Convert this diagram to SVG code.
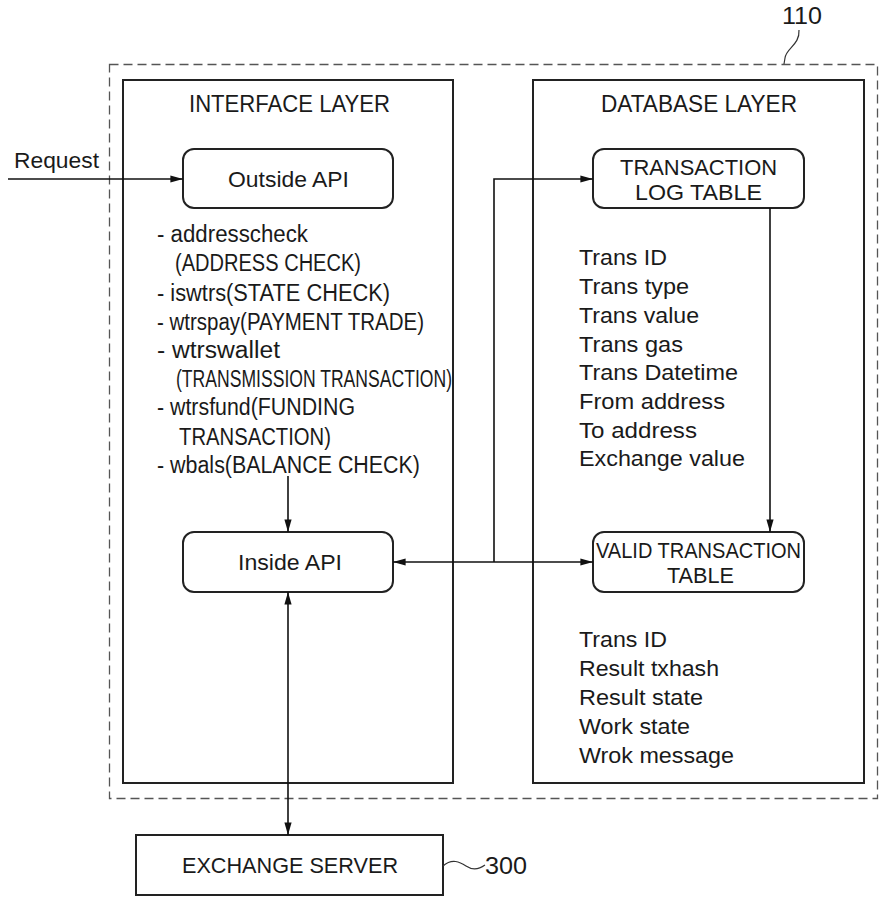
<svg xmlns="http://www.w3.org/2000/svg" width="885" height="901" viewBox="0 0 885 901">
<defs>
<style>
text{font-family:"Liberation Sans",Arial,sans-serif;fill:#1a1a1a;}
.t23{font-size:23px;}
.t22{font-size:22px;}
.layer{fill:none;stroke:#222;stroke-width:2;}
.node{fill:#fff;stroke:#222;stroke-width:2;}
.conn{fill:none;stroke:#111;stroke-width:1.6;}
.dash{fill:none;stroke:#555;stroke-width:1.3;stroke-dasharray:9 5;}
.lead{fill:none;stroke:#333;stroke-width:1.2;}
</style>
<marker id="ah" viewBox="0 0 14 10" refX="14" refY="5" markerWidth="14" markerHeight="9" markerUnits="userSpaceOnUse" orient="auto-start-reverse">
<path d="M0,1 L14,5 L0,9 Z" fill="#111"/>
</marker>
</defs>

<g id="system-110">
<rect class="dash" x="109.5" y="64.5" width="768" height="734"/>
<path class="lead" d="M799,30 C800,45 786,48 785,58 L784,64"/>
<text class="t23" x="782" y="24" textLength="40" lengthAdjust="spacingAndGlyphs">110</text>
</g>

<g id="interface-layer">
<rect class="layer" x="123" y="80" width="330" height="703"/>
<text class="t23" x="189" y="112" textLength="201" lengthAdjust="spacingAndGlyphs">INTERFACE LAYER</text>
</g>

<g id="database-layer">
<rect class="layer" x="533" y="80" width="331" height="703"/>
<text class="t23" x="601" y="112" textLength="196" lengthAdjust="spacingAndGlyphs">DATABASE LAYER</text>
</g>

<g id="outside-api">
<rect class="node" x="183" y="149" width="210" height="59" rx="11"/>
<text class="t22" x="228" y="187" textLength="121" lengthAdjust="spacingAndGlyphs">Outside API</text>
</g>

<g id="api-list">
<text class="t23" x="157" y="242" textLength="151" lengthAdjust="spacingAndGlyphs">- addresscheck</text>
<text class="t23" x="175" y="271" textLength="186" lengthAdjust="spacingAndGlyphs">(ADDRESS CHECK)</text>
<text class="t23" x="157" y="301" textLength="233" lengthAdjust="spacingAndGlyphs">- iswtrs(STATE CHECK)</text>
<text class="t23" x="157" y="330" textLength="267" lengthAdjust="spacingAndGlyphs">- wtrspay(PAYMENT TRADE)</text>
<text class="t23" x="157" y="358" textLength="123" lengthAdjust="spacingAndGlyphs">- wtrswallet</text>
<text class="t23" x="176" y="387" textLength="276" lengthAdjust="spacingAndGlyphs">(TRANSMISSION TRANSACTION)</text>
<text class="t23" x="157" y="415" textLength="198" lengthAdjust="spacingAndGlyphs">- wtrsfund(FUNDING</text>
<text class="t23" x="179" y="445" textLength="152" lengthAdjust="spacingAndGlyphs">TRANSACTION)</text>
<text class="t23" x="157" y="473" textLength="263" lengthAdjust="spacingAndGlyphs">- wbals(BALANCE CHECK)</text>
</g>

<g id="inside-api">
<rect class="node" x="183" y="532" width="210" height="60" rx="11"/>
<text class="t22" x="238" y="570" textLength="104" lengthAdjust="spacingAndGlyphs">Inside API</text>
</g>

<g id="transaction-log-table">
<rect class="node" x="593" y="149" width="211" height="59" rx="11"/>
<text class="t22" x="620" y="175" textLength="157" lengthAdjust="spacingAndGlyphs">TRANSACTION</text>
<text class="t22" x="635" y="200" textLength="127" lengthAdjust="spacingAndGlyphs">LOG TABLE</text>
</g>

<g id="log-fields">
<text class="t22" x="579" y="265" textLength="88" lengthAdjust="spacingAndGlyphs">Trans ID</text>
<text class="t22" x="579" y="294" textLength="110" lengthAdjust="spacingAndGlyphs">Trans type</text>
<text class="t22" x="579" y="323" textLength="120" lengthAdjust="spacingAndGlyphs">Trans value</text>
<text class="t22" x="579" y="352" textLength="104" lengthAdjust="spacingAndGlyphs">Trans gas</text>
<text class="t22" x="579" y="380" textLength="159" lengthAdjust="spacingAndGlyphs">Trans Datetime</text>
<text class="t22" x="579" y="409" textLength="146" lengthAdjust="spacingAndGlyphs">From address</text>
<text class="t22" x="579" y="438" textLength="118" lengthAdjust="spacingAndGlyphs">To address</text>
<text class="t22" x="579" y="466" textLength="166" lengthAdjust="spacingAndGlyphs">Exchange value</text>
</g>

<g id="valid-transaction-table">
<rect class="node" x="593" y="532" width="211" height="60" rx="11"/>
<text class="t22" x="596" y="558" textLength="205" lengthAdjust="spacingAndGlyphs">VALID TRANSACTION</text>
<text class="t22" x="667" y="583" textLength="67" lengthAdjust="spacingAndGlyphs">TABLE</text>
</g>

<g id="valid-fields">
<text class="t22" x="579" y="647" textLength="88" lengthAdjust="spacingAndGlyphs">Trans ID</text>
<text class="t22" x="579" y="676" textLength="140" lengthAdjust="spacingAndGlyphs">Result txhash</text>
<text class="t22" x="579" y="705" textLength="124" lengthAdjust="spacingAndGlyphs">Result state</text>
<text class="t22" x="579" y="734" textLength="111" lengthAdjust="spacingAndGlyphs">Work state</text>
<text class="t22" x="579" y="763" textLength="155" lengthAdjust="spacingAndGlyphs">Wrok message</text>
</g>

<g id="exchange-server-300">
<rect class="node" x="136" y="835" width="307" height="60"/>
<text class="t22" x="182" y="873" textLength="216" lengthAdjust="spacingAndGlyphs">EXCHANGE SERVER</text>
<path class="lead" d="M443,866 C452,858 460,862 466,866 C472,870 478,870 485,865"/>
<text class="t23" x="485" y="874" textLength="42" lengthAdjust="spacingAndGlyphs">300</text>
</g>

<g id="request-label">
<text class="t22" x="14" y="168" textLength="85" lengthAdjust="spacingAndGlyphs">Request</text>
</g>

<g id="connectors">
<line class="conn" x1="8" y1="179" x2="183" y2="179" marker-end="url(#ah)"/>
<line class="conn" x1="288" y1="476" x2="288" y2="532" marker-end="url(#ah)"/>
<line class="conn" x1="393" y1="562" x2="593" y2="562" marker-start="url(#ah)" marker-end="url(#ah)"/>
<polyline class="conn" points="494,562 494,179 593,179" marker-end="url(#ah)"/>
<line class="conn" x1="770" y1="208" x2="770" y2="532" marker-end="url(#ah)"/>
<line class="conn" x1="288" y1="592" x2="288" y2="835" marker-start="url(#ah)" marker-end="url(#ah)"/>
</g>
</svg>
